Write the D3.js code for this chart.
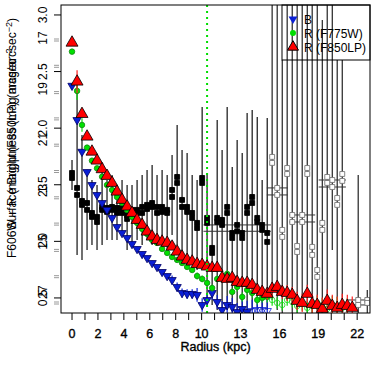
<!DOCTYPE html>
<html><head><meta charset="utf-8">
<script src="https://cdn.jsdelivr.net/npm/d3@7"></script>
<style>
body{margin:0;background:#fff}
text{font-family:"Liberation Sans",Arial,Helvetica,sans-serif;fill:#000}
</style></head><body>
<svg id="chart" width="374" height="374"></svg>
<script>
// ── profile radii (kpc) ─────────────────────────────────────────
const radius = [0.00,0.39,0.77,1.16,1.54,1.93,2.32,2.70,3.09,3.47,3.86,4.25,4.63,5.02,5.41,5.79,
  6.18,6.56,6.95,7.34,7.72,8.11,8.49,8.88,9.27,9.65,10.04,10.42,10.81,11.20,11.58,11.97,12.36,
  12.74,13.13,13.51,13.90,14.29,14.67,15.06,15.44,15.83,16.22,16.60,16.99,17.37,17.76,18.15,
  18.53,18.92,19.31,19.69,20.08,20.46,20.85,21.24,21.62];

// B band
const bVal = [2.375,2.072,1.792,1.613,1.498,1.410,1.339,1.278,1.207,1.127,1.074,1.030,0.977,0.933,
  0.889,0.853,0.809,0.774,0.730,0.694,0.659,0.597,0.544,0.536,0.536,0.527,0.438,0.482,0.544,0.465,
  0.394,0.438,0.420,0.376,0.403,0.376,0.385,0.394,0.394,0.385];
const bErr = [0.02,0.02,0.02,0.02,0.02,0.02,0.02,0.02,0.02,0.02,0.02,0.02,0.02,0.02,0.02,0.02,0.02,
  0.02,0.02,0.02,0.04,0.04,0.04,0.04,0.04,0.06,0.06,0.06,0.06,0.06,0.08,0.08,0.08,0.08,0.08,
  0.10,0.10,0.10,0.10,0.10];

// R (F775W)
const gVal = [2.676,2.329,2.028,1.828,1.713,1.645,1.571,1.498,1.454,1.392,1.339,1.278,1.216,1.163,
  1.110,1.066,1.012,0.986,0.933,0.898,0.862,0.836,0.809,0.774,0.747,0.694,0.668,0.633,0.588,0.668,
  0.686,0.712,0.553,0.597,0.509,0.571,0.544,0.482,0.500,0.509,0.482,0.456,0.438,0.482,0.465,0.429,
  0.447,0.412,0.429,0.456,0.420,0.403,0.438,0.429,0.412,0.420];
const gErr = [0.02,0.08,0.06,0.02,0.02,0.02,0.02,0.02,0.02,0.02,0.02,0.02,0.02,0.02,0.02,0.02,0.02,
  0.02,0.02,0.02,0.02,0.02,0.02,0.02,0.02,0.03,0.03,0.03,0.03,0.03,0.03,0.03,0.03,0.04,0.04,0.04,
  0.04,0.04,0.04,0.05,0.05,0.05,0.05,0.05,0.05,0.06,0.06,0.06,0.06,0.06,0.08,0.08,0.08,0.08,0.08,0.08];

// R (F850LP)
const rVal = [2.755,2.411,2.125,1.925,1.792,1.713,1.637,1.578,1.516,1.439,1.366,1.307,1.251,1.189,
  1.145,1.086,1.042,1.012,0.997,0.986,0.953,0.909,0.865,0.836,0.821,0.800,0.792,0.777,0.765,0.765,
  0.677,0.668,0.677,0.641,0.633,0.633,0.615,0.571,0.553,0.536,0.580,0.597,0.553,0.544,0.527,0.474,
  0.456,0.536,0.447,0.438,0.403,0.474,0.429,0.412,0.438,0.429,0.412];
const rErr = [0.02,0.10,0.03,0.02,0.02,0.02,0.02,0.02,0.02,0.02,0.02,0.02,0.02,0.02,0.02,0.02,0.02,
  0.02,0.02,0.02,0.02,0.02,0.02,0.02,0.02,0.03,0.03,0.03,0.03,0.03,0.04,0.04,0.04,0.04,0.04,0.04,
  0.05,0.05,0.05,0.05,0.06,0.06,0.06,0.07,0.07,0.08,0.08,0.08,0.09,0.09,0.10,0.10,0.10,0.10,0.10,
  0.10,0.10];

// F606W - R colour (two R bands), filled then open beyond OPEN_FROM
const colorRadius = [0.00,0.39,0.77,1.16,1.54,1.93,2.32,2.70,3.09,3.47,3.86,4.25,4.63,5.02,5.41,5.79,
  6.18,6.56,6.95,7.34,7.72,8.11,8.49,8.88,9.27,9.65,10.04,10.42,10.81,11.20,11.58,11.97,12.36,12.74,
  13.13,13.51,13.90,14.29,14.67,15.06,15.44,15.83,16.22,16.60,16.99,17.37,17.76,18.15,18.53,18.92,
  19.31,19.69,20.08,20.46,20.85,22.08,22.78];
const colorA = [1.604,1.472,1.357,1.339,1.251,1.216,1.304,1.295,1.304,1.295,1.295,1.233,1.278,1.278,
  1.304,1.322,1.339,1.304,1.304,1.278,1.454,1.569,1.366,1.304,1.251,1.163,1.560,1.207,0.942,1.207,
  1.189,1.304,1.074,1.145,1.074,1.304,1.392,1.207,1.145,1.074,
  1.746,1.472,1.101,1.648,1.233,0.959,1.233,1.648,0.951,0.747,1.163,1.569,1.542,1.383,1.595,0.482,0.482];
const colorB = [1.560,1.410,1.322,1.278,1.216,1.171,1.278,1.260,1.278,1.251,1.251,1.198,1.242,1.251,
  1.251,1.286,1.304,1.251,1.260,1.251,1.392,1.516,1.304,1.260,1.207,1.118,1.516,1.163,0.898,1.171,
  1.145,1.251,1.030,1.089,1.030,1.251,1.339,1.171,1.101,0.995,
  1.693,1.410,1.039,1.595,1.171,0.906,1.171,1.595,0.880,0.686,1.101,1.516,1.480,1.322,1.534,0.438,0.456];
const colorHi = [1.719,2.382,1.940,1.587,1.542,1.498,1.631,1.542,1.587,1.498,1.542,1.498,1.498,1.542,
  1.587,1.631,1.675,1.587,1.631,1.587,1.763,2.028,1.807,1.781,1.587,1.542,2.187,1.604,1.366,2.072,
  1.807,2.187,1.657,1.896,1.781,2.134,2.160,2.099,1.542,2.090,
  3.2,3.2,2.602,3.2,3.2,3.2,3.2,3.2,3.2,3.2,2.956,3.2,3.2,2.602,2.602,1.587,0.571];
const colorLo = [1.454,0.880,0.836,0.924,0.968,0.924,0.968,1.012,1.012,1.012,1.057,0.924,0.968,1.012,
  0.968,1.012,0.968,0.968,0.924,0.924,1.057,0.968,0.792,0.792,0.836,0.747,0.836,0.482,0.438,0.394,
  0.394,0.394,0.394,0.394,0.394,0.394,0.394,0.394,0.394,0.394,
  0.482,0.394,0.3,0.482,0.3,0.3,0.482,0.3,0.3,0.3,0.3,0.482,0.924,0.3,0.482,0.3,0.3];
const colorXErr = [0,0,0,0,0,0,0,0,0,0,0,0,0,0,0,0,0,0,0,0,0,0,0,0,0,0,0,0,0,0,0,0,0,2.6,0,0,0,0,0,0,
  0,0.8,0,0,0,0,1.0,0,0,0,0,0,1.05,0,0,0.9,0];
const OPEN_FROM = 40;

const SPLIT_R = 10.42;   // dotted marker radius

const xTickVals   = d3.range(0, 23);
const xLabelVals  = [0, 2, 4, 6, 8, 10, 13, 16, 19, 22];
const yTickVals   = [3.0, 2.5, 2.0, 1.5, 1.0, 0.5];
const magTickVals = [18, 19, 20, 21, 22, 23, 24, 25, 26, 27, 28];
const magLabelVals = [17, 19, 21, 23, 25, 27];

const legendItems = [
  { label: "B",          shape: "down", fill: "#0a1fd6" },
  { label: "R (F775W)",  shape: "circle", fill: "#00dd00" },
  { label: "R (F850LP)", shape: "up", fill: "#ff0000" },
];

// ── frame ─────────────────────────────────────────────────────────
const L = 61, R = 370, T = 5, B = 313;
const svg = d3.select("#chart");

const x = d3.scaleLinear().domain([-0.85, 22.99]).range([L, R]);
const y = d3.scaleLinear().domain([0.367, 3.088]).range([B, T]);
const mag    = d3.scaleLinear().domain([18, 28]).range([40, 303]);
const magLab = d3.scaleLinear().domain([17, 27]).range([38, 292]);

svg.append("defs").append("clipPath").attr("id", "plotClip")
  .append("rect").attr("x", L).attr("y", T).attr("width", R - L).attr("height", B - T);

const plot = svg.append("g").attr("clip-path", "url(#plotClip)");

const upTri   = d3.symbol().type(d3.symbolTriangle).size(62)();
const downTri = d3.symbol().type(d3.symbolTriangle).size(30)();
const dot     = d3.symbol().type(d3.symbolCircle).size(24)();
const sq      = d3.symbol().type(d3.symbolSquare).size(24)();

// ── colour profile ────────────────────────────────────────────────
const cIdx = d3.range(colorRadius.length);

plot.append("g").selectAll("line").data(cIdx).join("line")
  .attr("x1", i => x(colorRadius[i])).attr("x2", i => x(colorRadius[i]))
  .attr("y1", i => y(colorHi[i])).attr("y2", i => y(colorLo[i]))
  .attr("stroke", i => i < OPEN_FROM ? "#111" : "#222")
  .attr("stroke-width", 1.2);

const xe = cIdx.filter(i => colorXErr[i] > 0);
[colorA, colorB].forEach(vals => {
  plot.append("g").selectAll("line").data(xe).join("line")
    .attr("x1", i => x(colorRadius[i] - colorXErr[i]))
    .attr("x2", i => x(colorRadius[i] + colorXErr[i]))
    .attr("y1", i => y(vals[i])).attr("y2", i => y(vals[i]))
    .attr("stroke", "#333").attr("stroke-width", 1);
});

[colorA, colorB].forEach(vals => {
  plot.append("g").selectAll("path").data(cIdx).join("path")
    .attr("d", sq)
    .attr("transform", i => `translate(${x(colorRadius[i])},${y(vals[i])})`)
    .attr("fill", i => i < OPEN_FROM ? "#000" : "#fff")
    .attr("stroke", i => i < OPEN_FROM ? "#000" : "#777")
    .attr("stroke-width", 0.9);
});

// ── surface brightness profiles ───────────────────────────────────
function drawSeries(vals, errs, colour, shape, fill, stroke, openFrom) {
  const idx = d3.range(vals.length);
  plot.append("g").selectAll("line").data(idx).join("line")
    .attr("x1", i => x(radius[i])).attr("x2", i => x(radius[i]))
    .attr("y1", i => y(vals[i] + errs[i])).attr("y2", i => y(vals[i] - errs[i]))
    .attr("stroke", colour).attr("stroke-width", 1.2);
  plot.append("g").selectAll("path").data(idx).join("path")
    .attr("d", shape.d)
    .attr("transform", i => `translate(${x(radius[i])},${y(vals[i])})${shape.rot}`)
    .attr("fill", i => i >= openFrom ? "none" : fill)
    .attr("stroke", i => i >= openFrom ? colour : stroke)
    .attr("stroke-width", 0.8);
}

drawSeries(bVal, bErr, "#0a1fd6", { d: downTri, rot: " rotate(180)" }, "#0a1fd6", "#000066", 36);
drawSeries(gVal, gErr, "#11dd11", { d: dot, rot: "" }, "#00e000", "#118811", 40);
drawSeries(rVal, rErr, "#ff2020", { d: upTri, rot: "" }, "#ff0000", "#000", 999);

plot.append("line")
  .attr("x1", x(SPLIT_R)).attr("x2", x(SPLIT_R)).attr("y1", T).attr("y2", B)
  .attr("stroke", "#00dd00").attr("stroke-width", 2).attr("stroke-dasharray", "2,4");

// ── box ───────────────────────────────────────────────────────────
svg.append("rect").attr("x", L).attr("y", T).attr("width", R - L).attr("height", B - T)
  .attr("fill", "none").attr("stroke", "#000");

// ── x axis ────────────────────────────────────────────────────────
svg.append("g").selectAll("line").data(xTickVals).join("line")
  .attr("x1", d => x(d)).attr("x2", d => x(d)).attr("y1", B).attr("y2", B + 7)
  .attr("stroke", "#000");
svg.append("g").selectAll("text").data(xLabelVals).join("text")
  .attr("x", d => x(d)).attr("y", 338).attr("text-anchor", "middle")
  .attr("font-size", 12.5).attr("stroke", "#000").attr("stroke-width", 0.35)
  .text(d => d);
svg.append("text").attr("x", (L + R) / 2).attr("y", 351).attr("text-anchor", "middle")
  .attr("font-size", 12.5).attr("stroke", "#000").attr("stroke-width", 0.35)
  .text("Radius (kpc)");

// ── y axes (overplotted) ─────────────────────────────────────────
magTickVals.forEach(m => {
  [-1, 1].forEach(o => svg.append("line")
    .attr("x1", L - 7).attr("x2", L - 2).attr("y1", mag(m) + o).attr("y2", mag(m) + o)
    .attr("stroke", "#999"));
});
svg.append("g").selectAll("line").data(yTickVals).join("line")
  .attr("x1", L - 7).attr("x2", L).attr("y1", d => y(d)).attr("y2", d => y(d))
  .attr("stroke", "#000");
svg.append("g").selectAll("text").data(yTickVals).join("text")
  .attr("transform", d => `translate(47,${y(d)}) rotate(-90)`)
  .attr("text-anchor", "middle").attr("font-size", 12)
  .text(d => d.toFixed(1));
svg.append("g").selectAll("text").data(magLabelVals).join("text")
  .attr("transform", d => `translate(47,${magLab(d)}) rotate(-90)`)
  .attr("text-anchor", "middle").attr("font-size", 12)
  .text(d => d);

const yt = svg.append("g").attr("font-size", 12);
yt.append("text").attr("transform", "translate(16,258) rotate(-90)")
  .text("F606W \u2013 R (mag)");
yt.append("text").attr("transform", "translate(16,139) rotate(-90)").attr("text-anchor", "middle")
  .text("Surface Brightness (mag arcsec")
  .append("tspan").attr("dy", -4).attr("font-size", 9).text("\u22122");
yt.append("text").attr("transform", "translate(16,18) rotate(-90)").attr("text-anchor", "end")
  .text("\u03bc")
  .append("tspan").text(" (F850LP) (mag/arcsec");
yt.select("text:last-child").append("tspan").attr("dy", -4).attr("font-size", 9).text("\u22122");
yt.select("text:last-child").append("tspan").attr("dy", 4).text(")");

// ── legend ────────────────────────────────────────────────────────
const lg = svg.append("g");
lg.append("rect").attr("x", 282).attr("y", T).attr("width", R - 282).attr("height", 55)
  .attr("fill", "none").attr("stroke", "#000");
legendItems.forEach((it, k) => {
  const ly = 19 + k * 14;
  const d = it.shape === "circle" ? d3.symbol().type(d3.symbolCircle).size(28)()
          : d3.symbol().type(d3.symbolTriangle).size(it.shape === "up" ? 52 : 34)();
  lg.append("path").attr("d", d)
    .attr("transform", `translate(293,${ly})${it.shape === "down" ? " rotate(180)" : ""}`)
    .attr("fill", it.fill).attr("stroke", it.shape === "up" ? "#000" : "none");
  lg.append("text").attr("x", 304).attr("y", ly + 4.5).attr("font-size", 12).text(it.label);
});
</script></body></html>
